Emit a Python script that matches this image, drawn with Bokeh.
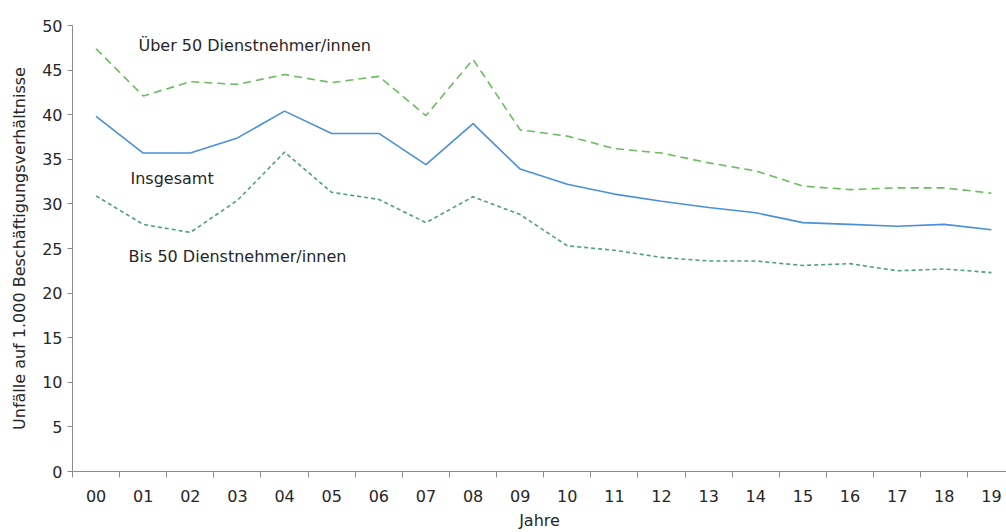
from bokeh.plotting import figure
from bokeh.models import FixedTicker, Range1d, Label
from bokeh.embed import file_html
from bokeh.resources import INLINE

years = ["00", "01", "02", "03", "04", "05", "06", "07", "08", "09",
         "10", "11", "12", "13", "14", "15", "16", "17", "18", "19"]
ueber50 = [47.4, 42.1, 43.7, 43.4, 44.5, 43.6, 44.3, 39.9, 46.2, 38.3,
           37.6, 36.2, 35.7, 34.6, 33.7, 32.0, 31.6, 31.8, 31.8, 31.2]
insgesamt = [39.8, 35.7, 35.7, 37.4, 40.4, 37.9, 37.9, 34.4, 39.0, 33.9,
             32.2, 31.1, 30.3, 29.6, 29.0, 27.9, 27.7, 27.5, 27.7, 27.1]
bis50 = [30.9, 27.7, 26.8, 30.4, 35.8, 31.3, 30.5, 27.9, 30.8, 28.8,
         25.3, 24.8, 24.0, 23.6, 23.6, 23.1, 23.3, 22.5, 22.7, 22.3]

FONT = "DejaVu Sans"
TXT = "#262626"
xs = list(range(len(years)))

p = figure(width=1006, height=532, output_backend="svg", toolbar_location=None,
           x_range=Range1d(-0.5, len(years) - 0.68), y_range=Range1d(0, 50),
           min_border_left=72, min_border_right=0, min_border_top=25, min_border_bottom=60)
p.outline_line_color = None
p.grid.visible = False
p.background_fill_color = "white"

p.line(xs, ueber50, line_color="#6abd5e", line_width=1.6, line_dash="8 5")
p.line(xs, insgesamt, line_color="#4a90d9", line_width=1.6)
p.line(xs, bis50, line_color="#4c9f88", line_width=1.6, line_dash="4 3")

xt = FixedTicker(ticks=xs, minor_ticks=[i - 0.5 for i in range(len(years) + 1)])
p.xaxis.ticker = xt
p.xaxis.major_label_overrides = {i: y for i, y in enumerate(years)}
p.xaxis.major_tick_line_color = None
p.xaxis.minor_tick_line_color = "#8c8c8c"
p.xaxis.minor_tick_out = 6
p.xaxis.minor_tick_in = 0
p.xaxis.axis_line_color = "#8c8c8c"
p.xaxis.major_label_standoff = 12
p.xaxis.axis_label = "Jahre"
p.xaxis.axis_label_standoff = 6

p.yaxis.ticker = FixedTicker(ticks=list(range(0, 51, 5)))
p.yaxis.axis_line_color = "#8c8c8c"
p.yaxis.major_tick_line_color = "#8c8c8c"
p.yaxis.major_tick_out = 5
p.yaxis.major_tick_in = 0
p.yaxis.minor_tick_line_color = None
p.yaxis.major_label_standoff = 5
p.yaxis.axis_label = "Unfälle auf 1.000 Beschäftigungsverhältnisse"
p.yaxis.axis_label_standoff = 10

for ax in (p.xaxis, p.yaxis):
    ax.major_label_text_font = FONT
    ax.major_label_text_font_size = "16px"
    ax.major_label_text_color = TXT
    ax.axis_label_text_font = FONT
    ax.axis_label_text_font_size = "16px"
    ax.axis_label_text_font_style = "normal"
    ax.axis_label_text_color = TXT

labels = [("Über 50 Dienstnehmer/innen", 0.90, 47.8),
          ("Insgesamt", 0.73, 32.9),
          ("Bis 50 Dienstnehmer/innen", 0.69, 24.1)]
for txt, x, y in labels:
    p.add_layout(Label(x=x, y=y, text=txt, text_font=FONT, text_font_size="16px",
                       text_color=TXT, text_baseline="middle"))

open("out.html", "w").write(file_html(p, INLINE))
